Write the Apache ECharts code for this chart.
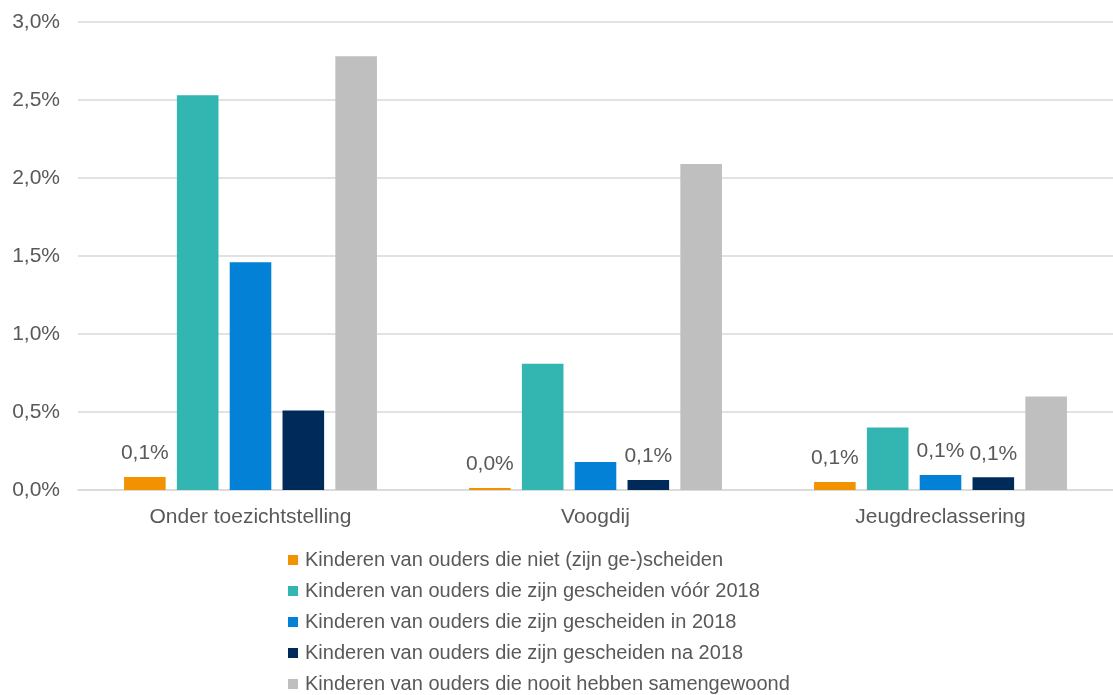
<!DOCTYPE html>
<html>
<head>
<meta charset="utf-8">
<script src="https://cdn.jsdelivr.net/npm/echarts@6/dist/echarts.min.js"></script>
<style>
    html, body { margin: 0; padding: 0; background: #fff; }
    #chart { width: 1113px; height: 695px; }
</style>
</head>
<body>
<div id="chart"></div>
<script>
// categorieen en reeksen (percentages)
var categories = ['Onder toezichtstelling', 'Voogdij', 'Jeugdreclassering'];
var seriesNames = [
    'Kinderen van ouders die niet (zijn ge-)scheiden',
    'Kinderen van ouders die zijn gescheiden vóór 2018',
    'Kinderen van ouders die zijn gescheiden in 2018',
    'Kinderen van ouders die zijn gescheiden na 2018',
    'Kinderen van ouders die nooit hebben samengewoond'
];
var nietGescheiden = [0.083, 0.013, 0.052];
var voor2018 = [2.53, 0.81, 0.40];
var in2018 = [1.46, 0.18, 0.096];
var na2018 = [0.51, 0.064, 0.081];
var nooitSamen = [2.78, 2.09, 0.60];
// welke staven een label krijgen
var labelNiet = [true, true, true];
var labelVoor = [false, false, false];
var labelIn = [false, false, true];
var labelNa = [false, true, true];
var labelNooit = [false, false, false];
var yTicks = [0, 0.5, 1.0, 1.5, 2.0, 2.5, 3.0];

var colors = ['#f39200', '#33b5b2', '#0281d6', '#002a5a', '#bfbfbf'];
var allData = [nietGescheiden, voor2018, in2018, na2018, nooitSamen];
var allLabels = [labelNiet, labelVoor, labelIn, labelNa, labelNooit];
var fnt = 'Liberation Sans, Arial, sans-serif';

function pct(v) {
    return v.toFixed(1).replace('.', ',') + '%';
}

var series = [];
for (var s = 0; s < seriesNames.length; s++) {
    var d = [];
    for (var i = 0; i < categories.length; i++) {
        d.push({ value: allData[s][i], label: { show: allLabels[s][i] } });
    }
    series.push({
        name: seriesNames[s],
        type: 'bar',
        barGap: '27%',
        barCategoryGap: '26.7%',
        itemStyle: { color: colors[s] },
        label: {
            position: 'top',
            distance: 13,
            color: '#595959',
            fontSize: 21,
            fontFamily: fnt,
            formatter: function (p) { return pct(p.value); }
        },
        data: d
    });
}

var myChart = echarts.init(document.getElementById('chart'));
var option = {
    animation: false,
    textStyle: { fontFamily: fnt },
    grid: {
        left: 78,
        top: 22,
        width: 1044,
        height: 468,
        containLabel: false
    },
    legend: {
        orient: 'vertical',
        left: 288,
        top: 550,
        height: 200,
        padding: 0,
        itemWidth: 10,
        itemHeight: 10,
        itemGap: 11,
        icon: 'rect',
        textStyle: { color: '#595959', fontSize: 20, padding: [0, 0, 0, 2] },
        data: seriesNames
    },
    xAxis: {
        type: 'category',
        data: categories,
        axisTick: { show: false },
        axisLine: { lineStyle: { color: '#d9d9d9', width: 1.5 } },
        axisLabel: { color: '#595959', fontSize: 21, margin: 17 }
    },
    yAxis: {
        type: 'value',
        min: yTicks[0],
        max: yTicks[yTicks.length - 1],
        interval: 0.5,
        axisLine: { show: false },
        axisTick: { show: false },
        splitLine: { lineStyle: { color: '#d9d9d9', width: 1.5 } },
        axisLabel: {
            color: '#595959',
            fontSize: 21,
            margin: 18,
            formatter: function (v) { return pct(v); }
        }
    },
    series: series
};
myChart.setOption(option);
</script>
</body>
</html>
